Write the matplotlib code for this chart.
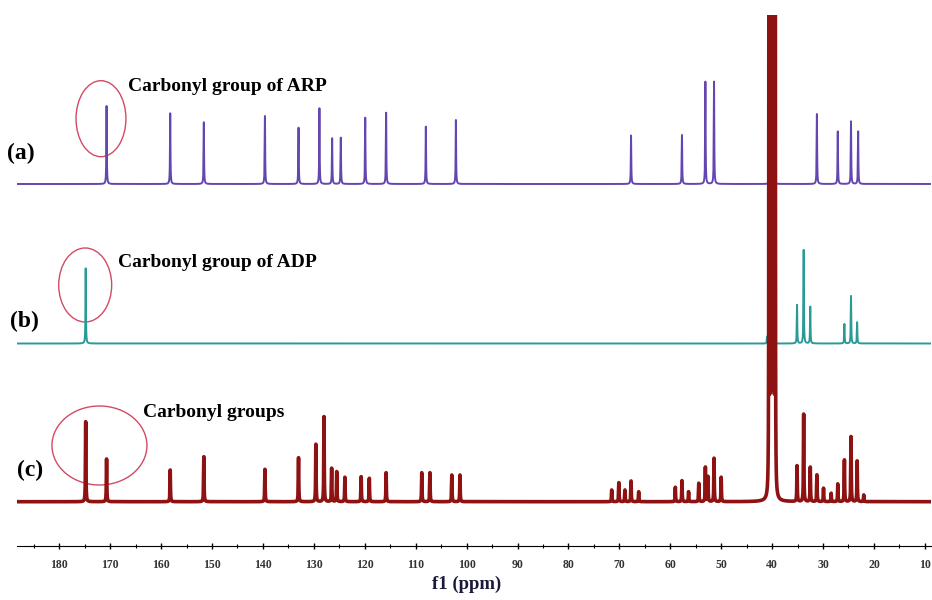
import matplotlib
matplotlib.use('Agg')
import matplotlib.pyplot as plt
import numpy as np
from matplotlib.patches import Ellipse
from matplotlib.ticker import MultipleLocator

# peak positions (ppm) and heights for each trace
arp_ppm = [170.7, 158.2, 151.6, 139.6, 133.0, 128.9, 126.4, 124.7, 119.9, 115.8, 108.0, 102.1,
           67.7, 57.7, 53.1, 51.4, 40.0, 31.2, 27.1, 24.5, 23.1]
arp_h = [78, 70.7, 61.7, 68, 56.3, 75.7, 45.7, 46.3, 66.3, 71.3, 57.3, 64,
         48.5, 49, 102.3, 102.3, 102, 70, 52.6, 62.6, 52.6]

adp_ppm = [174.8, 41.0, 35.1, 33.8, 32.5, 25.8, 24.5, 23.3]
adp_h = [75.2, 7, 38.5, 93.5, 36.8, 19.5, 47.5, 21.2]

mix_ppm = [174.8, 170.7, 158.2, 151.6, 139.6, 133.0, 129.6, 128.0, 126.5, 125.5, 123.9, 120.7,
           119.1, 115.8, 108.8, 107.2, 102.9, 101.3, 71.5, 70.1, 68.9, 67.7, 66.2, 59.0,
           57.7, 56.4, 54.4, 53.1, 52.6, 51.4, 50.0,
           40.6, 40.3, 40.0, 39.7, 39.4,
           35.1, 33.8, 32.5, 31.2, 29.9, 28.4, 27.1, 25.8, 24.5, 23.3, 22.0]
mix_h = [80, 42.7, 31.7, 45, 32.4, 44, 57.4, 85, 33.4, 30, 24.4, 25,
         23.4, 29, 29, 29, 26.7, 26.7, 11.7, 19, 11.7, 20.7, 10, 14.4,
         21, 10, 18.4, 34.4, 25, 43.4, 24.4,
         5000, 5000, 5000, 5000, 5000,
         35.7, 87.4, 34.4, 26.7, 13.4, 8.4, 17.7, 41.7, 65, 40.7, 6.7]

offsets = [317.7, 158.2, 0]
labels = ['(a)', '(b)', '(c)']
notes = ['Carbonyl group of ARP', 'Carbonyl group of ADP', 'Carbonyl groups']
colors = ['#6446b0', '#2a9a96', '#8e1212']


def spectrum(x, ppm, h, g=0.05):
    y = np.zeros_like(x)
    for p, a in zip(ppm, h):
        gg = 0.015 if a > 1000 else g
        y += a / (1 + ((x - p) / gg) ** 2)
    return y


x = np.arange(8.8, 188.3, 0.005)

fig = plt.figure(figsize=(9.32, 6), dpi=100)
ax = fig.add_axes([0.0182, 0.0905, 0.9807, 0.8845])

lws = [1.4, 1.4, 2.6]
for (ppm, h), off, c, lw in zip([(arp_ppm, arp_h), (adp_ppm, adp_h), (mix_ppm, mix_h)],
                                offsets, colors, lws):
    ax.plot(x, spectrum(x, ppm, h) + off, color=c, lw=lw)

ax.set_xlim(188.3, 8.8)
ax.set_ylim(-44, 486.7)

for s in ['left', 'right', 'top']:
    ax.spines[s].set_visible(False)
ax.set_yticks([])
ax.xaxis.set_major_locator(MultipleLocator(10))
ax.xaxis.set_minor_locator(MultipleLocator(5))
ax.tick_params(axis='x', which='major', direction='inout', length=5, width=1, pad=7,
               labelsize=8.5, labelcolor='#333333')
ax.tick_params(axis='x', which='minor', direction='inout', length=3, width=0.8)
for t in ax.get_xticklabels():
    t.set_family('Liberation Serif')
    t.set_fontweight('bold')

# circles around the carbonyl peaks
ell_col = '#d24a63'
ax.add_patch(Ellipse((171.8, 383), 9.8, 76, fill=False, ec=ell_col, lw=1))
ax.add_patch(Ellipse((174.9, 216.7), 10.4, 74, fill=False, ec=ell_col, lw=1))
ax.add_patch(Ellipse((172.1, 56.2), 18.65, 79, fill=False, ec=ell_col, lw=1))

serif = 'Liberation Serif'
fig.text(0.0075, 0.745, labels[0], fontsize=17, fontweight='bold', family=serif, va='center')
fig.text(0.0107, 0.465, labels[1], fontsize=17, fontweight='bold', family=serif, va='center')
fig.text(0.018, 0.2167, labels[2], fontsize=17, fontweight='bold', family=serif, va='center')
fig.text(0.1373, 0.8555, notes[0], fontsize=14, fontweight='bold', family=serif, va='center')
fig.text(0.1266, 0.5617, notes[1], fontsize=14, fontweight='bold', family=serif, va='center')
fig.text(0.1534, 0.3117, notes[2], fontsize=14, fontweight='bold', family=serif, va='center')
fig.text(0.5008, 0.0267, 'f1 (ppm)', fontsize=13.5, fontweight='bold', family=serif,
         ha='center', va='center', color='#1a1a3a')

fig.savefig('out.png', dpi=100)
